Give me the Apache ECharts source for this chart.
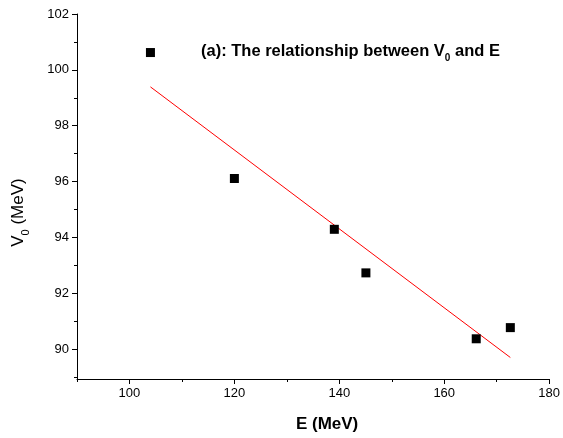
<!DOCTYPE html>
<html>
<head>
<meta charset="utf-8">
<script src="https://cdn.jsdelivr.net/npm/echarts@6/dist/echarts.min.js"></script>
<style>html,body{margin:0;padding:0;background:#fff;}#c{width:563px;height:438px;}</style>
</head>
<body>
<div id="c"></div>
<script>
// Data
var energyE = [104.0, 120.0, 139.05, 145.07, 166.1, 172.6];
var potentialV0 = [100.62, 96.11, 94.29, 92.73, 90.37, 90.77];
// Linear fit line endpoints
var fitE = [104.0, 172.6];
var fitV0 = [99.39, 89.70];
// Tick labels
var xTickLabels = [100, 120, 140, 160, 180];
var xMinorTicks = [90, 110, 130, 150, 170];
var yTickLabels = [90, 92, 94, 96, 98, 100, 102];
var yMinorTicks = [89, 91, 93, 95, 97, 99, 101];

var FONT = 'Liberation Sans, Arial, sans-serif';
var chart = echarts.init(document.getElementById('c'), null, {renderer: 'canvas'});

function pairs(xs, ys) { return xs.map(function (x, i) { return [x, ys[i]]; }); }

var axisLineStyle = {show: true, lineStyle: {color: '#000', width: 1}};

chart.setOption({
  animation: false,
  backgroundColor: '#fff',
  title: {
    text: '(a): The relationship between V{sub|0} and E',
    left: 196,
    top: 34,
    textStyle: {
      fontFamily: FONT, fontWeight: 'bold', fontSize: 16.5, color: '#000',
      rich: {sub: {fontFamily: FONT, fontWeight: 'bold', fontSize: 10, color: '#000', verticalAlign: 'bottom', padding: [14, 0, 0, 0]}}
    }
  },
  grid: {left: 77, right: 12, top: 14, bottom: 58, containLabel: false},
  xAxis: [{
    type: 'value', min: 90, max: 180, position: 'bottom',
    name: 'E (MeV)', nameLocation: 'middle', nameGap: 37,
    nameTextStyle: {fontFamily: FONT, fontWeight: 'bold', fontSize: 17, color: '#000', padding: [0, 0, 0, 28]},
    axisLine: axisLineStyle,
    axisTick: {show: true, inside: false, length: 5, customValues: xTickLabels, lineStyle: {color: '#000'}},
    axisLabel: {show: true, customValues: xTickLabels, fontFamily: FONT, fontSize: 13, color: '#000', margin: 8},
    splitLine: {show: false}
  }, {
    type: 'value', min: 90, max: 180, position: 'bottom', offset: 0,
    axisLine: {show: false},
    axisTick: {show: true, length: 3, customValues: xMinorTicks, lineStyle: {color: '#000'}},
    axisLabel: {show: false},
    splitLine: {show: false}
  }],
  yAxis: [{
    type: 'value', min: 88.93, max: 102, position: 'left',
    name: 'V{sub|0} (MeV)', nameLocation: 'middle', nameGap: 46, nameRotate: 90,
    nameTextStyle: {fontFamily: FONT, fontSize: 17, color: '#000', padding: [0, 32, 0, 0],
      rich: {sub: {fontFamily: FONT, fontSize: 11, color: '#000', verticalAlign: 'bottom', padding: [14, 0, 0, 0]}}},
    axisLine: axisLineStyle,
    axisTick: {show: true, inside: false, length: 5, customValues: yTickLabels, lineStyle: {color: '#000'}},
    axisLabel: {show: true, customValues: yTickLabels, fontFamily: FONT, fontSize: 13, color: '#000', margin: 8},
    splitLine: {show: false}
  }, {
    type: 'value', min: 88.93, max: 102, position: 'left', offset: 0,
    axisLine: {show: false},
    axisTick: {show: true, length: 3, customValues: yMinorTicks, lineStyle: {color: '#000'}},
    axisLabel: {show: false},
    splitLine: {show: false}
  }],
  series: [{
    type: 'line',
    data: pairs(fitE, fitV0),
    showSymbol: false,
    symbol: 'none',
    lineStyle: {color: '#ff0000', width: 1},
    z: 2
  }, {
    type: 'scatter',
    data: pairs(energyE, potentialV0),
    symbol: 'rect',
    symbolSize: 9,
    itemStyle: {color: '#000', opacity: 1},
    z: 3
  }]
});
</script>
</body>
</html>
